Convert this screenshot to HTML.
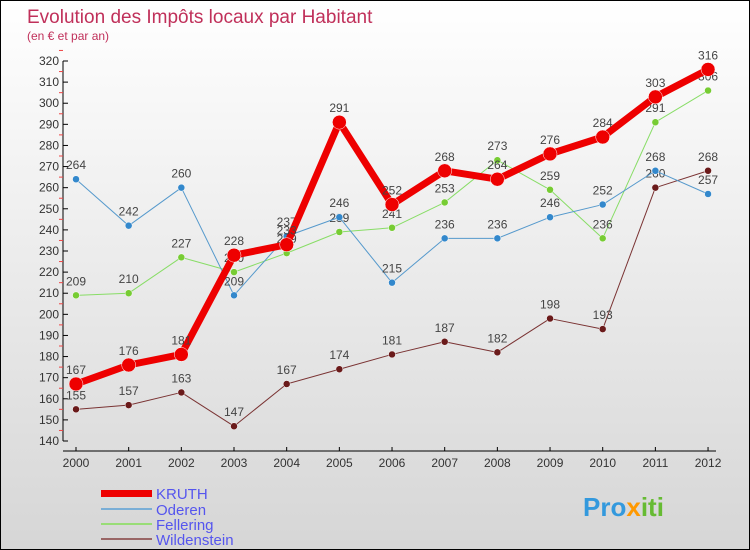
<!DOCTYPE html>
<html><head><meta charset="utf-8"><style>
body{margin:0}
#c{width:750px;height:550px;position:relative;overflow:hidden;box-sizing:border-box;border:1px solid #000;background:linear-gradient(#fff,#d6d6d6);font-family:"Liberation Sans",sans-serif}
</style></head><body>
<div id="c">
<svg id="s" width="750" height="550" style="position:absolute;left:0;top:0">
<text x="26" y="22" font-size="19" fill="#c0305a">Evolution des Impôts locaux par Habitant</text>
<text x="26" y="39" font-size="12" fill="#c0305a">(en € et par an)</text>
<g id="ax"></g><g id="series"></g>
<g>
<rect x="100" y="489" width="51" height="7" fill="#e00"/>
<text x="155" y="498" font-size="15" fill="#5555ee">KRUTH</text>
<rect x="100" y="507" width="51" height="2" fill="#7aaed6"/>
<text x="155" y="514" font-size="15" fill="#5555ee">Oderen</text>
<rect x="100" y="522" width="51" height="2" fill="#99dd77"/>
<text x="155" y="529" font-size="15" fill="#5555ee">Fellering</text>
<rect x="100" y="537" width="51" height="2" fill="#996666"/>
<text x="155" y="544" font-size="15" fill="#5555ee">Wildenstein</text>
</g>
<text x="582" y="515" font-size="26" font-weight="bold" fill="#3399dd">Pro<tspan fill="#ff9900">x</tspan><tspan fill="#66bb33">iti</tspan></text>
</svg>
</div>
<script>
const years=[2000,2001,2002,2003,2004,2005,2006,2007,2008,2009,2010,2011,2012];
const yTicks=[140,150,160,170,180,190,200,210,220,230,240,250,260,270,280,290,300,310,320];
const kruth=[167,176,181,228,233,291,252,268,264,276,284,303,316];
const oderen=[264,242,260,209,237,246,215,236,236,246,252,268,257];
const fellering=[209,210,227,220,229,239,241,253,273,259,236,291,306];
const wildenstein=[155,157,163,147,167,174,181,187,182,198,193,260,268];
const NS='http://www.w3.org/2000/svg';
function X(i){return 75+i*52.67;}
function Y(v){return 440-(v-140)*380/180;}
function mk(t,a,p){const e=document.createElementNS(NS,t);for(const k in a)e.setAttribute(k,a[k]);p.appendChild(e);return e;}
const ax=document.getElementById('ax');
const ya=mk('line',{x1:62,y1:60,x2:62,y2:440,stroke:'#000'},ax);


yTicks.forEach(v=>{
 mk('line',{x1:62,y1:Y(v),x2:67,y2:Y(v),stroke:'#000'},ax);
 mk('line',{x1:58,y1:Y(v+5),x2:62,y2:Y(v+5),stroke:'#e44'},ax);
 const t=mk('text',{x:58,y:Y(v)+4,'font-size':12,'text-anchor':'end',fill:'#333'},ax);t.textContent=v;
 
 
});
const xa=mk('line',{x1:62,y1:450,x2:715,y2:450,stroke:'#000'},ax);


years.forEach((y,i)=>{
 mk('line',{x1:X(i),y1:446,x2:X(i),y2:450,stroke:'#000'},ax);
 const t=mk('text',{x:X(i),y:466,'font-size':12,'text-anchor':'middle',fill:'#333'},ax);t.textContent=y;
 
 
});
const sg=document.getElementById('series');
function draw(vals,name,col,w,r,dot){
 const g=mk('g',{},sg);
 
 
 const pl=mk('polyline',{points:vals.map((v,i)=>X(i)+','+Y(v)).join(' '),fill:'none',stroke:col,'stroke-width':w,'stroke-linejoin':'round'},g);
 
 
 vals.forEach((v,i)=>{
  const c=mk('circle',{cx:X(i),cy:Y(v),r:r,fill:dot,stroke:'#fff','stroke-width':0.5},g);
  
  
  const t=mk('text',{x:X(i),y:Y(v)-10,'font-size':12,'text-anchor':'middle',fill:'#444'},g);t.textContent=v;
  
  
 });
}
draw(wildenstein,'wildenstein','#7a3333',1,3.5,'#6a1a1a');
draw(fellering,'fellering','#88dd66',1,3.5,'#77cc33');
draw(oderen,'oderen','#5599cc',1,3.5,'#3388cc');
draw(kruth,'kruth','#ee0000',7,7,'#ee0000');
</script>
</body></html>
